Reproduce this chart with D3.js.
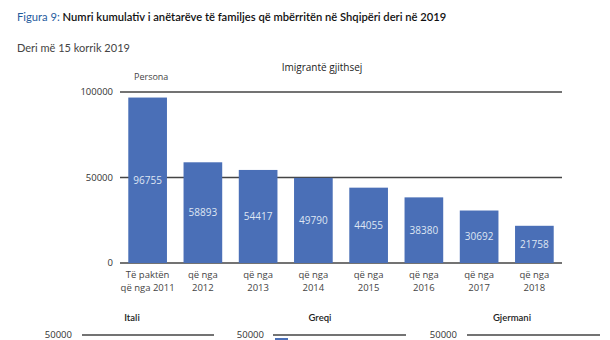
<!DOCTYPE html>
<html>
<head>
<meta charset="utf-8">
<script src="https://cdn.jsdelivr.net/npm/d3@7/dist/d3.min.js"></script>
<style>
  html, body { margin: 0; padding: 0; background: #fff; }
  svg { display: block; }
</style>
</head>
<body>
<svg id="chart" width="610" height="340"></svg>
<script>
// Cumulative number of family members arriving in Albania
const categories = ["Të paktën\nqë nga 2011", "që nga\n2012", "që nga\n2013", "që nga\n2014",
                    "që nga\n2015", "që nga\n2016", "që nga\n2017", "që nga\n2018"];
const values = [96755, 58893, 54417, 49790, 44055, 38380, 30692, 21758];
const yTicks = [0, 50000, 100000];

// Small-multiple panels below the main chart
const panelTitles = ["Itali", "Greqi", "Gjermani"];
const panelTicks = [50000];

const svg = d3.select("#chart");
const titleFont = "Lato, 'Open Sans', sans-serif";
const bodyFont = "'Open Sans', 'Noto Sans', sans-serif";

// Heading
const title = svg.append("text")
  .attr("x", 17).attr("y", 21)
  .attr("font-family", titleFont)
  .attr("font-size", 11.2)
  .attr("font-weight", 600);
title.append("tspan").attr("fill", "#1f5c9e").attr("font-weight", 400).text("Figura 9: ");
title.append("tspan").attr("fill", "#111").text("Numri kumulativ i anëtarëve të familjes që mbërritën në Shqipëri deri në 2019");

svg.append("text")
  .attr("x", 17).attr("y", 52)
  .attr("font-family", titleFont)
  .attr("font-size", 11)
  .attr("fill", "#444")
  .text("Deri më 15 korrik 2019");

// Main chart scales
const x = d3.scaleBand()
  .domain(categories)
  .range([120, 562])
  .paddingInner(0.3)
  .paddingOuter(0.15);

const y = d3.scaleLinear()
  .domain([0, 100000])
  .range([263, 92]);

// Gridlines and tick labels
const grid = svg.append("g");
grid.selectAll("line").data(yTicks).join("line")
  .attr("x1", 120).attr("x2", 562)
  .attr("y1", d => y(d)).attr("y2", d => y(d))
  .attr("stroke", "#444").attr("stroke-width", 1.3);
grid.selectAll("text").data(yTicks).join("text")
  .attr("x", 113).attr("y", d => y(d))
  .attr("dy", "0.35em")
  .attr("text-anchor", "end")
  .attr("font-family", bodyFont)
  .attr("font-size", 9.5)
  .attr("fill", "#333")
  .text(d => d);

svg.append("text")
  .attr("x", 134).attr("y", 80)
  .attr("font-family", bodyFont)
  .attr("font-size", 9)
  .attr("fill", "#444")
  .text("Persona");

svg.append("text")
  .attr("x", 322).attr("y", 71)
  .attr("text-anchor", "middle")
  .attr("font-family", bodyFont)
  .attr("font-size", 10)
  .attr("fill", "#222")
  .text("Imigrantë gjithsej");

// Bars
svg.append("g").selectAll("rect").data(values).join("rect")
  .attr("x", (d, i) => x(categories[i]))
  .attr("y", d => y(d))
  .attr("width", x.bandwidth())
  .attr("height", d => y(0) - y(d))
  .attr("fill", "#4a6fb7");

// Value labels at the middle of each bar
svg.append("g").selectAll("text").data(values).join("text")
  .attr("x", (d, i) => x(categories[i]) + x.bandwidth() / 2)
  .attr("y", d => (y(d) + y(0)) / 2)
  .attr("dy", "0.35em")
  .attr("text-anchor", "middle")
  .attr("font-family", bodyFont)
  .attr("font-size", 10)
  .attr("fill", "#dfe6f3")
  .text(d => d);

// Category labels (two lines)
const xl = svg.append("g").selectAll("text").data(categories).join("text")
  .attr("x", d => x(d) + x.bandwidth() / 2)
  .attr("y", 278)
  .attr("text-anchor", "middle")
  .attr("font-family", bodyFont)
  .attr("font-size", 9.5)
  .attr("fill", "#444");
xl.selectAll("tspan").data(d => d.split("\n")).join("tspan")
  .attr("x", function () { return d3.select(this.parentNode).attr("x"); })
  .attr("dy", (d, i) => i === 0 ? 0 : 13)
  .text(d => d);

// Country panels
const panelLayout = [
  { cx: 132, tickRight: 72, x1: 82, x2: 214 },
  { cx: 320, tickRight: 264, x1: 273, x2: 406 },
  { cx: 512, tickRight: 457, x1: 467, x2: 600 }
];
const py = d3.scaleLinear().domain([0, 50000]).range([420, 335]);

panelTitles.forEach((t, i) => {
  const L = panelLayout[i];
  const g = svg.append("g");
  g.append("text")
    .attr("x", L.cx).attr("y", 321)
    .attr("text-anchor", "middle")
    .attr("font-family", titleFont)
    .attr("font-size", 9.5)
    .attr("font-weight", 600)
    .attr("fill", "#222")
    .text(t);
  g.selectAll("line").data(panelTicks).join("line")
    .attr("x1", L.x1).attr("x2", L.x2)
    .attr("y1", d => py(d)).attr("y2", d => py(d))
    .attr("stroke", "#444").attr("stroke-width", 1.3);
  g.selectAll("text.tick").data(panelTicks).join("text")
    .attr("class", "tick")
    .attr("x", L.tickRight).attr("y", d => py(d))
    .attr("dy", "0.35em")
    .attr("text-anchor", "end")
    .attr("font-family", bodyFont)
    .attr("font-size", 9.5)
    .attr("fill", "#333")
    .text(d => d);
});

// Top of the first Greqi bar, just visible under its 50000 line
svg.append("rect")
  .attr("x", 275).attr("y", 338)
  .attr("width", 13).attr("height", 4)
  .attr("fill", "#4a6fb7");
</script>
</body>
</html>
